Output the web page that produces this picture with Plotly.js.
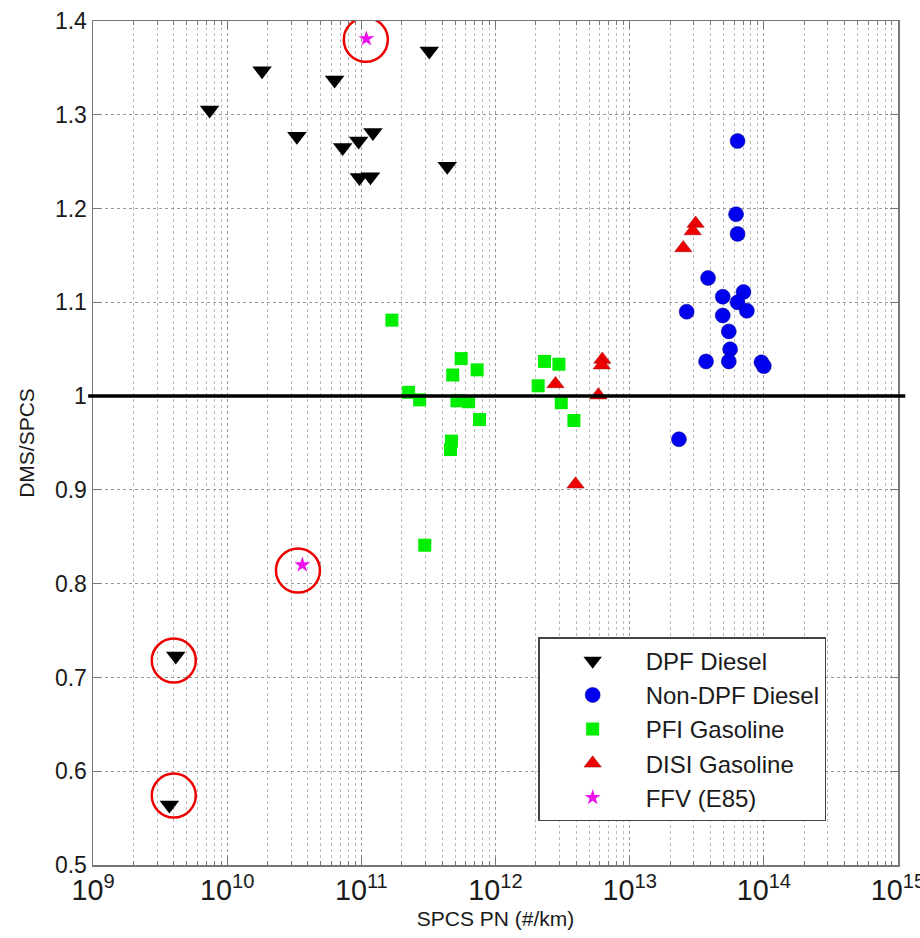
<!DOCTYPE html>
<html>
<head>
<meta charset="utf-8">
<script src="https://cdn.plot.ly/plotly-3.0.1.min.js"></script>
<style>html,body{margin:0;padding:0;background:#fff;}#chart{width:920px;height:938px;}</style>
</head>
<body>
<div id="chart"></div>
<script>
// DPF Diesel
var dpfX = [7.4e9, 1.82e10, 3.31e10, 6.32e10, 7.26e10, 9.55e10, 1.22e11, 9.67e10, 1.17e11, 3.21e11, 4.37e11, 4.14e9, 3.71e9];
var dpfY = [1.305, 1.347, 1.277, 1.337, 1.265, 1.272, 1.281, 1.233, 1.234, 1.368, 1.245, 0.723, 0.564];
// Non-DPF Diesel
var nondpfX = [6.37e13, 6.21e13, 6.37e13, 3.84e13, 7.05e13, 4.94e13, 6.37e13, 7.47e13, 2.66e13, 4.94e13, 5.48e13, 5.61e13, 3.71e13, 5.48e13, 9.6e13, 1.0e14, 2.33e13];
var nondpfY = [1.272, 1.194, 1.173, 1.126, 1.111, 1.106, 1.100, 1.091, 1.090, 1.086, 1.069, 1.050, 1.037, 1.037, 1.036, 1.032, 0.954];
// PFI Gasoline
var pfiX = [1.69e11, 5.55e11, 4.8e11, 7.3e11, 2.25e11, 2.72e11, 5.16e11, 6.3e11, 7.6e11, 4.7e11, 4.62e11, 2.97e11, 2.32e12, 2.97e12, 2.08e12, 3.09e12, 3.84e12];
var pfiY = [1.081, 1.040, 1.0225, 1.028, 1.004, 0.996, 0.995, 0.994, 0.975, 0.952, 0.943, 0.841, 1.037, 1.034, 1.011, 0.993, 0.974];
// DISI Gasoline
var disiX = [2.8e12, 6.25e12, 6.2e12, 5.84e12, 3.95e12, 3.1e13, 2.95e13, 2.51e13];
var disiY = [1.013, 1.039, 1.033, 1.001, 0.906, 1.184, 1.176, 1.158];
// FFV (E85)
var ffvX = [1.09e11, 3.63e10];
var ffvY = [1.381, 0.820];
// Highlight circles
var circleX = [1.08e11, 3.37e10, 4.0e9, 4.0e9];
var circleY = [1.380, 0.814, 0.718, 0.574];

var seriesNames = ['DPF Diesel', 'Non-DPF Diesel', 'PFI Gasoline', 'DISI Gasoline', 'FFV (E85)'];
var refValue = 1.0;

var FONT = 'Liberation Sans, Arial, sans-serif';
var TXT = '#1a1a1a';

var traces = [
  {x: dpfX, y: dpfY, name: seriesNames[0], type: 'scatter', mode: 'markers',
   marker: {symbol: 'triangle-down', size: 17, color: '#000000', line: {width: 0}}},
  {x: nondpfX, y: nondpfY, name: seriesNames[1], type: 'scatter', mode: 'markers',
   marker: {symbol: 'circle', size: 15, color: '#0000ee', line: {width: 0.5, color: '#00008b'}}},
  {x: pfiX, y: pfiY, name: seriesNames[2], type: 'scatter', mode: 'markers',
   marker: {symbol: 'square', size: 13, color: '#00ee00', line: {width: 0}}},
  {x: disiX, y: disiY, name: seriesNames[3], type: 'scatter', mode: 'markers',
   marker: {symbol: 'triangle-up', size: 15, color: '#ee0000', line: {width: 0.5, color: '#990000'}}},
  {x: ffvX, y: ffvY, name: seriesNames[4], type: 'scatter', mode: 'markers',
   marker: {symbol: 'star', size: 12, color: '#ee11ee', line: {width: 0}}},
  {x: circleX, y: circleY, name: 'highlight', type: 'scatter', mode: 'markers', showlegend: false,
   hoverinfo: 'skip',
   marker: {symbol: 'circle-open', size: 44, color: '#ee0000', line: {width: 2.5, color: '#ee0000'}}}
];

var layout = {
  width: 920, height: 938,
  paper_bgcolor: '#ffffff', plot_bgcolor: '#ffffff',
  margin: {l: 93, r: 22, t: 21, b: 73},
  font: {family: FONT, color: TXT, size: 23},
  showlegend: true,
  legend: {
    x: 0.553, y: 0.27, xanchor: 'left', yanchor: 'top',
    bgcolor: '#ffffff', bordercolor: '#444444', borderwidth: 1.5,
    font: {family: FONT, size: 24, color: TXT},
    itemwidth: 96
  },
  xaxis: {
    type: 'log', range: [9, 15], dtick: 1,
    exponentformat: 'power',
    ticklabeloverflow: 'allow',
    showline: true, linecolor: '#777777', linewidth: 1.5, mirror: 'ticks',
    ticks: 'inside', ticklen: 8, tickcolor: '#777777', tickwidth: 1,
    showgrid: true, gridcolor: '#999999', griddash: 'dot', gridwidth: 1,
    zeroline: false,
    tickfont: {family: FONT, size: 23, color: TXT},
    minor: {dtick: 'D1', ticks: 'inside', ticklen: 4, tickcolor: '#777777', showgrid: true, gridcolor: '#bbbbbb', griddash: 'dot', gridwidth: 1},
    title: {text: 'SPCS PN (#/km)', font: {family: FONT, size: 21, color: TXT}, standoff: 6}
  },
  yaxis: {
    range: [0.5, 1.4], dtick: 0.1,
    showline: true, linecolor: '#777777', linewidth: 1.5, mirror: 'ticks',
    ticks: 'inside', ticklen: 8, tickcolor: '#777777', tickwidth: 1,
    showgrid: true, gridcolor: '#999999', griddash: 'dot', gridwidth: 1,
    zeroline: false,
    tickfont: {family: FONT, size: 23, color: TXT},
    title: {text: 'DMS/SPCS', font: {family: FONT, size: 21, color: TXT}, standoff: 14}
  },
  shapes: [
    {type: 'line', xref: 'paper', yref: 'y', x0: -0.006, x1: 1.009, y0: refValue, y1: refValue,
     line: {color: '#000000', width: 3.5}}
  ]
};

Plotly.newPlot('chart', traces, layout, {displayModeBar: false, staticPlot: true});
</script>
</body>
</html>
